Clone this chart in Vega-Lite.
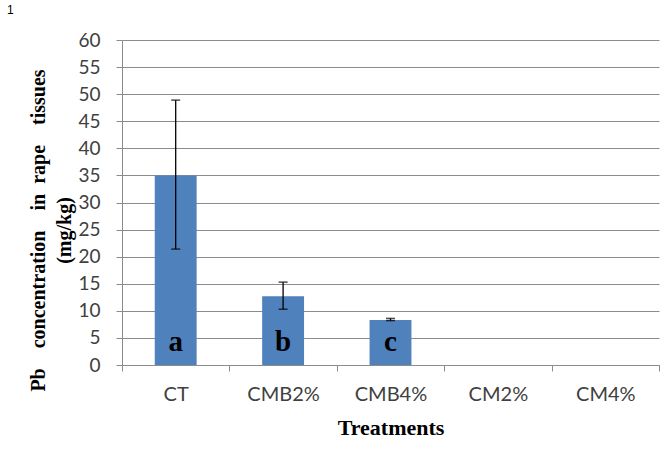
{
  "$schema": "https://vega.github.io/schema/vega-lite/v6.json",
  "width": 537,
  "height": 325,
  "autosize": {"type": "none"},
  "padding": {"left": 122, "top": 40, "right": 5, "bottom": 85},
  "background": "white",
  "title": {"text": "1", "anchor": "start", "frame": "group", "dx": -115, "offset": 14, "fontSize": 12, "font": "Liberation Sans", "fontWeight": "normal", "color": "#000000"},
  "data": {"values": [
    {"treatment": "CT", "mean": 35.0, "lo": 21.4, "hi": 48.9, "letter": "a"},
    {"treatment": "CMB2%", "mean": 12.7, "lo": 10.3, "hi": 15.3, "letter": "b"},
    {"treatment": "CMB4%", "mean": 8.3, "lo": 8.2, "hi": 8.6, "letter": "c"},
    {"treatment": "CM2%", "mean": 0, "lo": null, "hi": null, "letter": ""},
    {"treatment": "CM4%", "mean": 0, "lo": null, "hi": null, "letter": ""}
  ]},
  "encoding": {
    "x": {"field": "treatment", "type": "nominal", "sort": null,
      "scale": {"paddingInner": 0, "paddingOuter": 0},
      "axis": {"title": "Treatments", "labelAngle": 0, "labelFont": "Lato", "labelFontSize": 20, "labelColor": "#404040", "labelPadding": 13,
        "ticks": true, "tickBand": "extent", "tickColor": "#8c8c8c", "tickSize": 6, "domainColor": "#8c8c8c", "titleFont": "Liberation Serif", "titleFontSize": 22, "titleFontWeight": "bold", "titleColor": "#000000", "titlePadding": 13}}
  },
  "layer": [
    {
      "mark": {"type": "bar", "color": "#4F81BD", "width": {"band": 0.39}},
      "encoding": {
        "y": {"field": "mean", "type": "quantitative",
          "scale": {"domain": [0, 60], "nice": false},
          "axis": {
            "title": ["Pb\u00a0\u00a0\u00a0 concentration\u00a0\u00a0\u00a0 in\u00a0\u00a0rape\u00a0\u00a0\u00a0 tissues", "(mg/kg)"]}}
      }
    },
    {
      "mark": {"type": "rule", "color": "#000000", "strokeWidth": 1.3},
      "encoding": {"y": {"field": "lo", "type": "quantitative"}, "y2": {"field": "hi"}}
    },
    {
      "mark": {"type": "tick", "color": "#000000", "thickness": 1.5, "size": 9},
      "encoding": {"y": {"field": "hi", "type": "quantitative"}}
    },
    {
      "mark": {"type": "tick", "color": "#000000", "thickness": 1.5, "size": 9},
      "encoding": {"y": {"field": "lo", "type": "quantitative"}}
    },
    {
      "mark": {"type": "text", "font": "Liberation Serif", "fontWeight": "bold", "fontSize": 29, "color": "#000000", "baseline": "alphabetic"},
      "encoding": {"y": {"datum": 2.6}, "text": {"field": "letter"}}
    }
  ],
  "config": {
    "view": {"stroke": null},
    "axis": {"grid": false},
    "axisY": {"tickCount": 12, "labelOverlap": false, "grid": true, "gridColor": "#8c8c8c", "domainColor": "#8c8c8c", "tickColor": "#8c8c8c", "tickSize": 6, "labelPadding": 16,
      "labelFont": "Lato", "labelFontSize": 19, "labelColor": "#404040",
      "titleFont": "Liberation Serif", "titleFontSize": 20, "titleFontWeight": "bold", "titleColor": "#000000",
      "titleLineHeight": 26, "titleAngle": -90, "titleAlign": "center", "titleBaseline": "middle", "titleX": -84, "titleY": 190}
  }
}
